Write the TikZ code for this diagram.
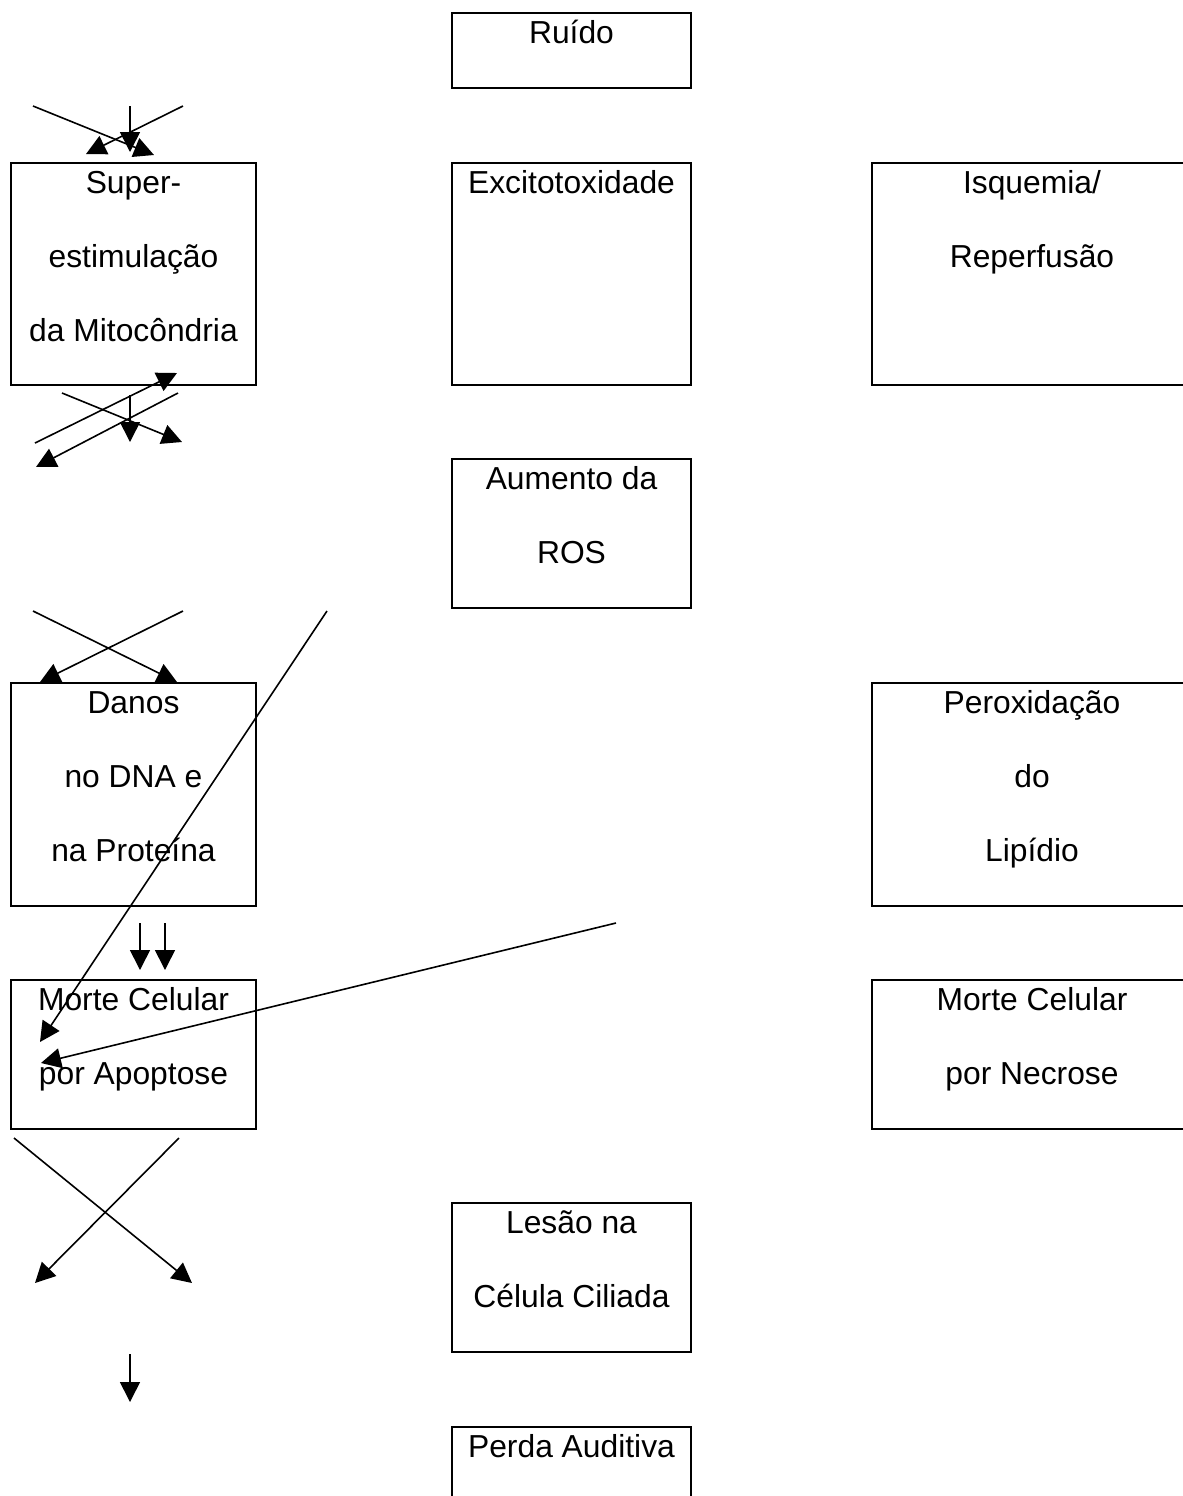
\documentclass[tikz,border=0pt]{standalone}
\usepackage{fontspec}
\setmainfont{Liberation Sans}
\usetikzlibrary{arrows.meta, calc, fit}
\newcommand{\topline}{\rule{0pt}{15.5pt}}

\begin{document}
\begin{tikzpicture}[
    x=0.5pt, y=-0.5pt,
    >={Triangle[length=10pt, width=10pt]},
    box/.style={draw, line width=1pt, inner sep=0pt},
    txt/.style={anchor=north, inner sep=0pt, align=center,
        font=\fontsize{15.9pt}{37pt}\selectfont},
    arr/.style={->, line width=0.8pt},
]
    \useasboundingbox (0,0) rectangle (1183,1496);

    % Boxes, middle column
    \node[box, fit={(452,13) (691,88)}] (ruido) {};
    \node[txt] (ruido-t) at (ruido.north) {\topline Ruído};
    \node[box, fit={(452,163) (691,385)}] (excito) {};
    \node[txt] (excito-t) at (excito.north) {\topline Excitotoxidade};
    \node[box, fit={(452,459) (691,608)}] (ros) {};
    \node[txt] (ros-t) at (ros.north) {\topline Aumento da\\ROS};
    \node[box, fit={(452,1203) (691,1352)}] (lesao) {};
    \node[txt] (lesao-t) at (lesao.north) {\topline Lesão na\\Célula Ciliada};
    \node[box, fit={(452,1427) (691,1502)}] (perda) {};
    \node[txt] (perda-t) at (perda.north) {\topline Perda Auditiva};

    % Boxes, left column
    \node[box, fit={(11,163) (256,385)}] (super) {};
    \node[txt] (super-t) at (super.north) {\topline Super-\\estimulação\\da Mitocôndria};
    \node[box, fit={(11,683) (256,906)}] (danos) {};
    \node[txt] (danos-t) at (danos.north) {\topline Danos\\no DNA e\\na Proteína};
    \node[box, fit={(11,980) (256,1129)}] (apop) {};
    \node[txt] (apop-t) at (apop.north) {\topline Morte Celular\\por Apoptose};

    % Boxes, right column
    \node[box, fit={(872,163) (1192,385)}] (isq) {};
    \node[txt] (isq-t) at (isq.north) {\topline Isquemia/\\Reperfusão};
    \node[box, fit={(872,683) (1192,906)}] (perox) {};
    \node[txt] (perox-t) at (perox.north) {\topline Peroxidação\\do\\Lipídio};
    \node[box, fit={(872,980) (1192,1129)}] (necr) {};
    \node[txt] (necr-t) at (necr.north) {\topline Morte Celular\\por Necrose};

    % Arrows above Super-estimulação
    \coordinate (a1) at (33,106);  \coordinate (a1e) at (154,155);
    \coordinate (a2) at (183,106); \coordinate (a2e) at (86,154);
    \coordinate (a3) at (130,106); \coordinate (a3e) at (130,152);
    \draw[arr] (a1) -- (a1e);
    \draw[arr] (a2) -- (a2e);
    \draw[arr] (a3) -- (a3e);

    % Arrows below Super-estimulação
    \coordinate (b1) at (35,443);  \coordinate (b1e) at (177,373);
    \coordinate (b2) at (178,393); \coordinate (b2e) at (36,467);
    \coordinate (b3) at (62,393);  \coordinate (b3e) at (182,442);
    \coordinate (b4) at (130,395); \coordinate (b4e) at (130,442);
    \draw[arr] (b1) -- (b1e);
    \draw[arr] (b2) -- (b2e);
    \draw[arr] (b3) -- (b3e);
    \draw[arr] (b4) -- (b4e);

    % Arrows above Danos
    \coordinate (c1) at (33,611);  \coordinate (c1e) at (177,682);
    \coordinate (c2) at (183,611); \coordinate (c2e) at (40,682);
    \coordinate (c3) at (327,611); \coordinate (c3e) at (40,1042);
    \draw[arr] (c1) -- (c1e);
    \draw[arr] (c2) -- (c2e);
    \draw[arr] (c3) -- (c3e);

    % Arrows into Apoptose
    \coordinate (d1) at (140,923); \coordinate (d1e) at (140,970);
    \coordinate (d2) at (165,923); \coordinate (d2e) at (165,970);
    \coordinate (d3) at (616,923); \coordinate (d3e) at (41,1063);
    \draw[arr] (d1) -- (d1e);
    \draw[arr] (d2) -- (d2e);
    \draw[arr] (d3) -- (d3e);

    % Arrows below Apoptose
    \coordinate (f1) at (14,1138);  \coordinate (f1e) at (192,1283);
    \coordinate (f2) at (179,1138); \coordinate (f2e) at (35,1283);
    \coordinate (f3) at (130,1354); \coordinate (f3e) at (130,1402);
    \draw[arr] (f1) -- (f1e);
    \draw[arr] (f2) -- (f2e);
    \draw[arr] (f3) -- (f3e);
\end{tikzpicture}
\end{document}
